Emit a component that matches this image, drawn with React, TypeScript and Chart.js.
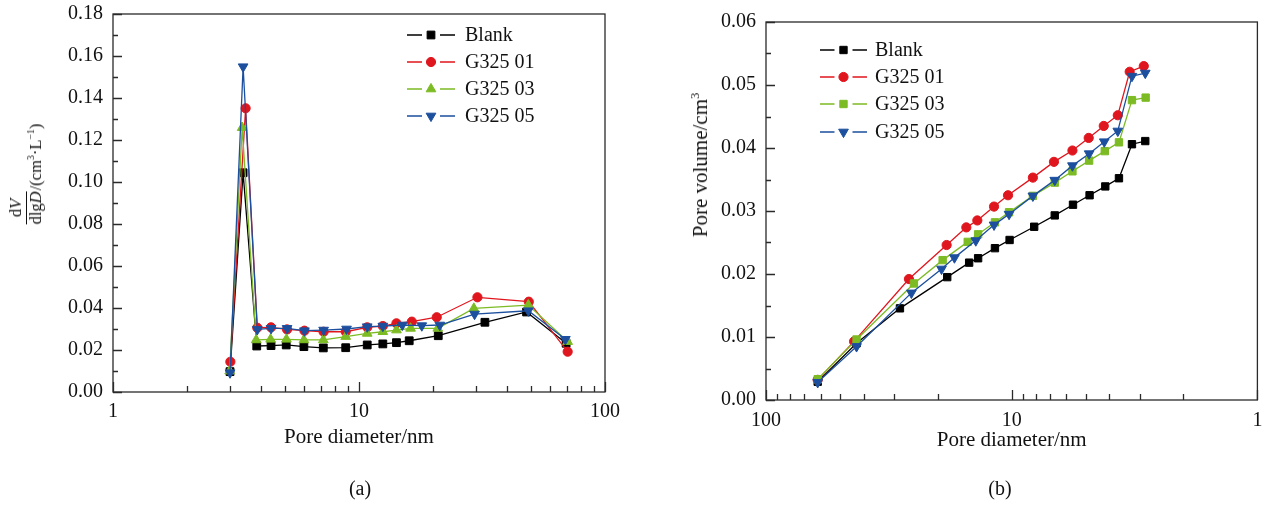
import React, { useEffect, useRef } from 'react';
import { Chart, registerables } from 'chart.js';

Chart.register(...registerables);

const FONT = "'Liberation Serif', 'Times New Roman', Times, serif";

const seriesNames = ['Blank', 'G325 01', 'G325 03', 'G325 05'];
const seriesColors = ['#000000', '#e0161e', '#7cbb23', '#1c4f9e'];

// ---------- (a) dV/dlgD vs pore diameter ----------
const diamA_blank = [2.99, 3.38, 3.84, 4.39, 5.06, 5.97, 7.16, 8.83, 10.8, 12.5, 14.2, 16.0, 21.0, 32.5, 48.0, 69.5];
const diamA_g01 = [3.0, 3.46, 3.86, 4.39, 5.1, 6.0, 7.18, 8.83, 10.8, 12.5, 14.2, 16.4, 20.7, 30.3, 49.0, 70.5];
const diamA_g03 = [2.98, 3.35, 3.82, 4.37, 5.07, 5.97, 7.16, 8.83, 10.8, 12.5, 14.2, 16.2, 20.9, 29.3, 48.8, 70.5];
const diamA_g05 = [2.99, 3.38, 3.86, 4.39, 5.1, 6.0, 7.18, 8.9, 10.8, 12.5, 15.0, 18.0, 21.3, 29.5, 48.8, 69.0];

const dvA_blank = [0.0097, 0.1044, 0.0219, 0.0221, 0.0224, 0.0216, 0.0210, 0.0211, 0.0224, 0.0229, 0.0235, 0.0244, 0.0268, 0.0332, 0.0381, 0.0232];
const dvA_g01 = [0.0144, 0.1351, 0.0306, 0.0308, 0.0298, 0.0292, 0.0287, 0.0287, 0.0308, 0.0314, 0.0327, 0.0335, 0.0356, 0.0451, 0.0430, 0.0192];
const dvA_g03 = [0.0100, 0.1259, 0.0248, 0.0251, 0.0251, 0.0248, 0.0248, 0.0264, 0.0279, 0.0287, 0.0295, 0.0303, 0.0303, 0.0398, 0.0414, 0.0240];
const dvA_g05 = [0.0092, 0.1549, 0.0298, 0.0303, 0.0303, 0.0292, 0.0295, 0.0300, 0.0311, 0.0314, 0.0319, 0.0316, 0.0319, 0.0371, 0.0387, 0.0251];

const yTicksA = { min: 0, max: 0.18, step: 0.02 };

// ---------- (b) cumulative pore volume vs pore diameter ----------
const diamB_blank = [61.6, 42.8, 28.5, 18.3, 14.9, 13.7, 11.7, 10.2, 8.1, 6.68, 5.63, 4.82, 4.16, 3.66, 3.24, 2.86];
const diamB_g01 = [61.6, 43.8, 26.2, 18.4, 15.3, 13.8, 11.8, 10.35, 8.2, 6.73, 5.66, 4.86, 4.22, 3.70, 3.31, 2.90];
const diamB_g03 = [61.6, 42.8, 25.0, 19.1, 15.1, 13.7, 11.7, 10.25, 8.2, 6.68, 5.66, 4.84, 4.18, 3.66, 3.24, 2.85];
const diamB_g05 = [61.6, 42.8, 25.6, 19.3, 17.1, 14.0, 11.8, 10.25, 8.2, 6.68, 5.66, 4.84, 4.20, 3.70, 3.24, 2.86];

const volB_blank = [0.0029, 0.0090, 0.01455, 0.0195, 0.0218, 0.0225, 0.0241, 0.0254, 0.0275, 0.0293, 0.0310, 0.0325, 0.0339, 0.0352, 0.0406, 0.0411];
const volB_g01 = [0.0032, 0.0093, 0.0192, 0.0246, 0.0274, 0.0285, 0.0307, 0.0325, 0.0353, 0.0378, 0.0396, 0.0416, 0.0435, 0.0452, 0.0521, 0.0530];
const volB_g03 = [0.0033, 0.0096, 0.0185, 0.0222, 0.0251, 0.0263, 0.0282, 0.0298, 0.0324, 0.0345, 0.0363, 0.0380, 0.0395, 0.0409, 0.0476, 0.0480];
const volB_g05 = [0.0028, 0.0085, 0.0170, 0.0208, 0.0226, 0.0253, 0.0278, 0.0295, 0.0324, 0.0349, 0.0372, 0.0391, 0.0410, 0.0427, 0.0514, 0.0519];

const yTicksB = { min: 0, max: 0.06, step: 0.01 };

const xLabelValues = [1, 10, 100];

const stylesA = [
  { pointStyle: 'rect', rotation: 0, radius: 5.5 },
  { pointStyle: 'circle', rotation: 0, radius: 4.6 },
  { pointStyle: 'triangle', rotation: 0, radius: 5.6 },
  { pointStyle: 'triangle', rotation: 180, radius: 5.6 },
];
const stylesB = [
  { pointStyle: 'rect', rotation: 0, radius: 5.2 },
  { pointStyle: 'circle', rotation: 0, radius: 4.6 },
  { pointStyle: 'rect', rotation: 0, radius: 5.2 },
  { pointStyle: 'triangle', rotation: 180, radius: 5.6 },
];

function drawMarker(ctx: CanvasRenderingContext2D, style: string, rotationDeg: number, x: number, y: number, r: number) {
  ctx.beginPath();
  if (style === 'circle') {
    ctx.arc(x, y, r, 0, Math.PI * 2);
  } else if (style === 'rect') {
    const s = Math.SQRT1_2 * r;
    ctx.rect(x - s, y - s, 2 * s, 2 * s);
  } else {
    let rad = (rotationDeg * Math.PI) / 180;
    ctx.moveTo(x + Math.sin(rad) * r, y - Math.cos(rad) * r);
    rad += (2 * Math.PI) / 3;
    ctx.lineTo(x + Math.sin(rad) * r, y - Math.cos(rad) * r);
    rad += (2 * Math.PI) / 3;
    ctx.lineTo(x + Math.sin(rad) * r, y - Math.cos(rad) * r);
    ctx.closePath();
  }
  ctx.fill();
  ctx.stroke();
}

const frameTicksPlugin = {
  id: 'frameTicks',
  afterDraw(chart: any, _args: any, opts: any) {
    const { ctx, chartArea } = chart;
    const { left, right, top, bottom } = chartArea;
    const xs = chart.scales.x;
    const ys = chart.scales.y;
    ctx.save();
    ctx.strokeStyle = opts.color || '#222';
    ctx.lineWidth = 1.3;
    ctx.strokeRect(left, top, right - left, bottom - top);
    const n = Math.round((opts.yMax - opts.yMin) / opts.yMinor);
    ctx.beginPath();
    for (let i = 0; i <= n; i++) {
      const v = opts.yMin + i * opts.yMinor;
      const py = Math.round(ys.getPixelForValue(v)) + 0.5;
      const len = i % 2 === 0 ? 9 : 5;
      ctx.moveTo(left, py);
      ctx.lineTo(left + len, py);
    }
    for (let d = 1; d <= 100; d *= 10) {
      for (let k = 1; k <= 9; k++) {
        const v = d * k;
        if (v > 100) break;
        const px = Math.round(xs.getPixelForValue(v)) + 0.5;
        const len = k === 1 ? 10 : 6;
        ctx.moveTo(px, bottom);
        ctx.lineTo(px, bottom - len);
      }
    }
    ctx.stroke();
    ctx.restore();
  },
};

const legendPlugin = {
  id: 'customLegend',
  afterDraw(chart: any, _args: any, opts: any) {
    const { ctx } = chart;
    ctx.save();
    ctx.font = `${opts.fontSize}px ${FONT}`;
    ctx.textBaseline = 'middle';
    ctx.textAlign = 'left';
    chart.data.datasets.forEach((ds: any, i: number) => {
      const y = opts.rows[i];
      const cx = (opts.x0 + opts.x1) / 2;
      const gap = opts.gap;
      ctx.strokeStyle = ds.borderColor;
      ctx.lineWidth = 1.3;
      ctx.beginPath();
      ctx.moveTo(opts.x0, y);
      ctx.lineTo(cx - gap, y);
      ctx.moveTo(cx + gap, y);
      ctx.lineTo(opts.x1, y);
      ctx.stroke();
      ctx.fillStyle = ds.pointBackgroundColor;
      ctx.strokeStyle = ds.pointBorderColor;
      ctx.lineWidth = 1;
      drawMarker(ctx, ds.pointStyle, ds.pointRotation || 0, cx, y, ds.pointRadius);
      ctx.fillStyle = '#111';
      ctx.fillText(ds.label, opts.textX, y + 1);
    });
    ctx.restore();
  },
};

type Cfg = {
  xs: number[][];
  ys: number[][];
  styles: { pointStyle: string; rotation: number; radius: number }[];
  yTicks: { min: number; max: number; step: number };
  reverse: boolean;
  yAxisWidth: number;
  xAxisHeight: number;
  xTickPad: number;
  padding: { top: number; right: number; bottom: number; left: number };
  legend: any;
};

function buildConfig(c: Cfg): any {
  const datasets = seriesNames.map((name, i) => ({
    label: name,
    data: c.xs[i].map((x, j) => ({ x, y: c.ys[i][j] })),
    borderColor: seriesColors[i],
    backgroundColor: seriesColors[i],
    pointBackgroundColor: seriesColors[i],
    pointBorderColor: seriesColors[i],
    pointBorderWidth: 1,
    borderWidth: 1.3,
    pointStyle: c.styles[i].pointStyle,
    pointRotation: c.styles[i].rotation,
    pointRadius: c.styles[i].radius,
    showLine: true,
    tension: 0,
    order: 3 - i,
  }));
  return {
    type: 'scatter',
    data: { datasets },
    plugins: [frameTicksPlugin, legendPlugin],
    options: {
      responsive: false,
      animation: false,
      events: [],
      layout: { padding: c.padding },
      plugins: {
        legend: { display: false },
        tooltip: { enabled: false },
        title: { display: false },
        frameTicks: {
          yMin: c.yTicks.min,
          yMax: c.yTicks.max,
          yMinor: c.yTicks.step / 2,
          color: '#2a2a2a',
        },
        customLegend: c.legend,
      },
      scales: {
        x: {
          type: 'logarithmic',
          min: 1,
          max: 100,
          reverse: c.reverse,
          grid: { display: false, drawTicks: false },
          border: { display: false },
          afterFit: (scale: any) => {
            scale.height = c.xAxisHeight;
            scale.paddingLeft = 0;
            scale.paddingRight = 0;
          },
          ticks: {
            autoSkip: false,
            maxRotation: 0,
            padding: c.xTickPad,
            color: '#111',
            font: { family: FONT, size: 20 },
            callback: (v: any) => (xLabelValues.includes(Number(v)) ? String(v) : ''),
          },
          title: {
            display: true,
            text: 'Pore diameter/nm',
            color: '#111',
            font: { family: FONT, size: 21 },
            padding: { top: 0, bottom: 0 },
          },
        },
        y: {
          type: 'linear',
          min: c.yTicks.min,
          max: c.yTicks.max,
          grid: { display: false, drawTicks: false },
          border: { display: false },
          afterFit: (scale: any) => {
            scale.width = c.yAxisWidth;
            scale.paddingTop = 0;
            scale.paddingBottom = 0;
          },
          ticks: {
            stepSize: c.yTicks.step,
            padding: 10,
            color: '#111',
            font: { family: FONT, size: 20 },
            callback: (v: any) => Number(v).toFixed(2),
          },
          title: { display: false },
        },
      },
    },
  };
}

function ChartCanvas({ cfg, width, height, left }: { cfg: Cfg; width: number; height: number; left: number }) {
  const ref = useRef<HTMLCanvasElement | null>(null);
  useEffect(() => {
    if (!ref.current) return;
    const chart = new Chart(ref.current, buildConfig(cfg));
    return () => chart.destroy();
  }, []);
  return (
    <canvas
      ref={ref}
      width={width}
      height={height}
      style={{ position: 'absolute', left, top: 0, width, height }}
    />
  );
}

const cfgA: Cfg = {
  xs: [diamA_blank, diamA_g01, diamA_g03, diamA_g05],
  ys: [dvA_blank, dvA_g01, dvA_g03, dvA_g05],
  styles: stylesA,
  yTicks: yTicksA,
  reverse: false,
  yAxisWidth: 113,
  xAxisHeight: 58,
  xTickPad: 8,
  padding: { top: 14, right: 27, bottom: 56, left: 0 },
  legend: { x0: 407, x1: 455, gap: 9, textX: 465, rows: [35, 62, 89, 116], fontSize: 20 },
};

const cfgB: Cfg = {
  xs: [diamB_blank, diamB_g01, diamB_g03, diamB_g05],
  ys: [volB_blank, volB_g01, volB_g03, volB_g05],
  styles: stylesB,
  yTicks: yTicksB,
  reverse: true,
  yAxisWidth: 134,
  xAxisHeight: 53,
  xTickPad: 9,
  padding: { top: 22, right: 6, bottom: 53, left: 0 },
  legend: { x0: 188, x1: 235, gap: 9, textX: 243, rows: [50, 77, 104, 132], fontSize: 20 },
};

export default function App() {
  const textStyle: React.CSSProperties = { fontFamily: FONT, color: '#111', position: 'absolute', whiteSpace: 'nowrap' };
  return (
    <div style={{ position: 'absolute', left: 0, top: 0, width: 1264, height: 506, background: '#ffffff', overflow: 'hidden' }}>
      <ChartCanvas cfg={cfgA} width={632} height={506} left={0} />
      <ChartCanvas cfg={cfgB} width={632} height={506} left={632} />
      <div
        style={{
          ...textStyle,
          left: 26,
          top: 174,
          fontSize: 16.5,
          lineHeight: 1,
          transform: 'translate(-50%, -50%) rotate(-90deg)',
        }}
      >
        <span style={{ display: 'inline-block', textAlign: 'center', verticalAlign: 'baseline', marginRight: 1 }}>
          <span style={{ display: 'block', borderBottom: '1px solid #111', padding: '0 1px 1px' }}>
            d<i>V</i>
          </span>
          <span style={{ display: 'block', paddingTop: 1 }}>
            dlg<i>D</i>
          </span>
        </span>
        /(cm<sup style={{ fontSize: '0.6em' }}>3</sup>·L<sup style={{ fontSize: '0.6em' }}>−1</sup>)
      </div>
      <div
        style={{
          ...textStyle,
          left: 700,
          top: 165,
          fontSize: 21,
          lineHeight: 1,
          transform: 'translate(-50%, -50%) rotate(-90deg)',
        }}
      >
        Pore volume/cm<sup style={{ fontSize: '0.6em' }}>3</sup>
      </div>
      <div style={{ ...textStyle, left: 360, top: 488, fontSize: 20, transform: 'translate(-50%, -50%)' }}>(a)</div>
      <div style={{ ...textStyle, left: 1000, top: 488, fontSize: 20, transform: 'translate(-50%, -50%)' }}>(b)</div>
    </div>
  );
}
